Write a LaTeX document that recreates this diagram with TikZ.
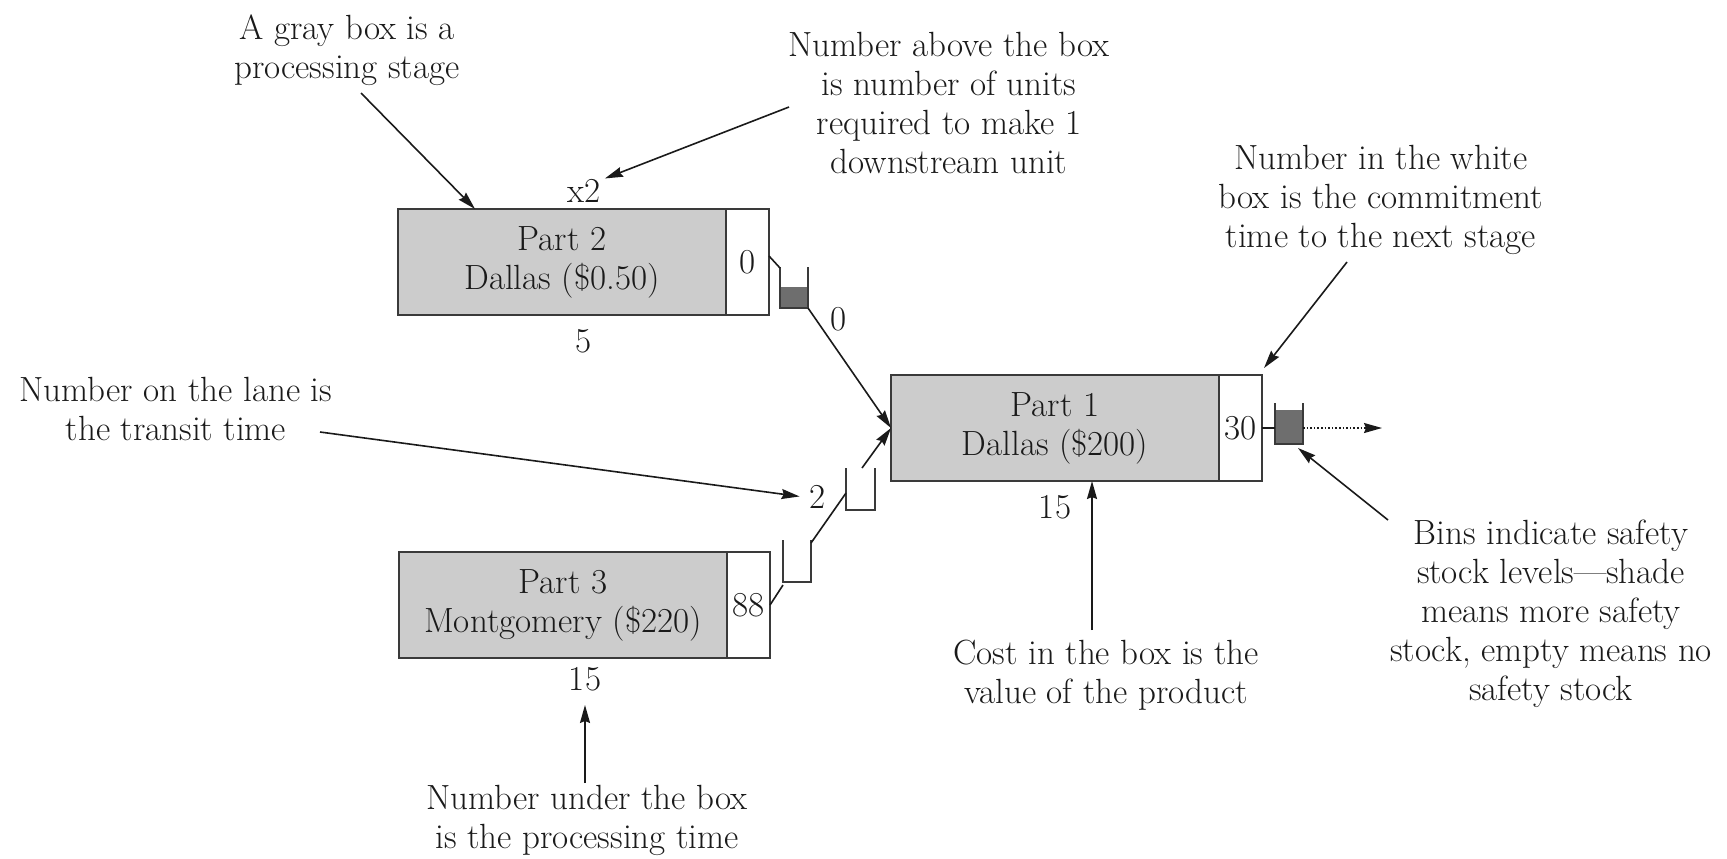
\documentclass[tikz,border=0pt]{standalone}
\usetikzlibrary{arrows.meta,calc}
\definecolor{stagegray}{HTML}{CCCCCC}
\definecolor{edgegray}{HTML}{3A3A3A}
\definecolor{stockfill}{HTML}{6E6E6E}
\definecolor{ink}{HTML}{1A1A1A}
\begin{document}
\begin{tikzpicture}[x=0.5pt,y=-0.5pt,
  font=\fontsize{17.5}{19.5}\selectfont,
  every node/.style={text=ink},
  stage/.style={draw=edgegray,line width=1pt,fill=stagegray,minimum width=164pt,
    minimum height=53pt,inner sep=0pt,outer sep=0pt,anchor=north west,align=center},
  commit/.style={draw=edgegray,line width=1pt,fill=white,minimum width=21.5pt,
    minimum height=53pt,inner sep=0pt,outer sep=0pt,anchor=north west},
  lbl/.style={inner sep=0pt,anchor=base},
  % multi-line notes are anchored at the baseline of their last line
  note/.style={inner sep=0pt,anchor=base,align=center},
  plainlane/.style={draw=ink,line width=0.8pt},
  lane/.style={plainlane,-{Stealth[length=9pt,width=5pt,inset=1pt]}},
  pointer/.style={lane},
  binwall/.style={draw=edgegray,line width=1pt},
]
\useasboundingbox (0,0) rectangle (1727,858);

% ---- stages: gray processing box + white commitment box ----
\node[stage] (p2) at (398,209) {Part 2\\Dallas (\$0.50)};
\node[commit] (p2c) at (p2.north east) {0};
\node[stage] (p1) at (891,375) {Part 1\\Dallas (\$200)};
\node[commit] (p1c) at (p1.north east) {30};
\node[stage] (p3) at (399,552) {Part 3\\Montgomery (\$220)};
\node[commit] (p3c) at (p3.north east) {88};

% ---- numbers around the stages ----
\node[lbl] (x2) at (584,202) {x2};
\node[lbl] (t2) at (584,352) {5};
\node[lbl] (t1) at (1055,518) {15};
\node[lbl] (t3) at (585,690) {15};
\node[lbl] (l2) at (839,330) {0};
\node[lbl] (l3) at (818,508) {2};

% ---- safety stock bins ----
% bin after Part 2 (partly filled)
\fill[stockfill] (780,287) rectangle (808,308);
\draw[binwall] (780,267) -- (780,308) -- (808,308) -- (808,267);
\coordinate (aIn) at (780,268);
\coordinate (aOut) at (808,308);
% bin after Part 1 (nearly full)
\fill[stockfill] (1275,410) rectangle (1303,444);
\draw[binwall] (1275,403) -- (1275,444) -- (1303,444) -- (1303,403);
\coordinate (cIn) at (1275,428);
\coordinate (cOut) at (1303,428);
\coordinate (cBR) at (1303,444);
\coordinate (demand) at (1382,428);
% empty bins on the Part 3 lane
\draw[binwall] (783,540) -- (783,582) -- (811,582) -- (811,540);
\coordinate (lIn) at (783,585);
\coordinate (lOut) at (811,543);
\draw[binwall] (846,468) -- (846,510) -- (875,510) -- (875,468);
\coordinate (uIn) at (846,493);
\coordinate (uOut) at (862,468);

% ---- lanes ----
\draw[plainlane] ([yshift=3pt]p2c.east) -- (aIn);
\draw[lane] (aOut) -- (p1.west);
\draw[plainlane] (p3c.east) -- (lIn);
\draw[plainlane] (lOut) -- (uIn);
\draw[lane] (uOut) -- (p1.west);
\draw[plainlane] (p1c.east) -- (cIn);
\draw[lane,densely dotted] (cOut) -- (demand);

% ---- explanatory notes ----
\node[note] (ngray) at (347,78) {A gray box is a\\processing stage};
\node[note] (nunits) at (949,173) {Number above the box\\is number of units\\required to make 1\\downstream unit};
\node[note] (nwhite) at (1381,247) {Number in the white\\box is the commitment\\time to the next stage};
\node[note] (nlane) at (176,440) {Number on the lane is\\the transit time};
\node[note] (nbins) at (1551,700) {Bins indicate safety\\stock levels---shade\\means more safety\\stock, empty means no\\safety stock};
\node[note] (ncost) at (1106,703) {Cost in the box is the\\value of the product};
\node[note] (nunder) at (587,848) {Number under the box\\is the processing time};

\coordinate (grayTail) at (361,93);
\coordinate (unitsTail) at (789,107);
\coordinate (whiteTail) at (1347,262);
\coordinate (laneTail) at (320,432);
\coordinate (binsTail) at (1388,520);
\coordinate (costTail) at (1092,630);
\coordinate (underTail) at (585,783);

\draw[pointer] (grayTail) -- ([xshift=38.5pt]p2.north west);
\draw[pointer] (unitsTail) -- ([xshift=2pt]x2.north east);
\draw[pointer] (whiteTail) -- ([shift={(1pt,3.5pt)}]p1c.north east);
\draw[pointer] (laneTail) -- ([xshift=-5pt]l3.west);
\draw[pointer] (binsTail) -- ([shift={(-2.5pt,-2pt)}]cBR);
\draw[pointer] (costTail) -- (costTail |- p1.south);
\draw[pointer] (underTail) -- ([yshift=-7pt]t3.south);
\end{tikzpicture}
\end{document}
